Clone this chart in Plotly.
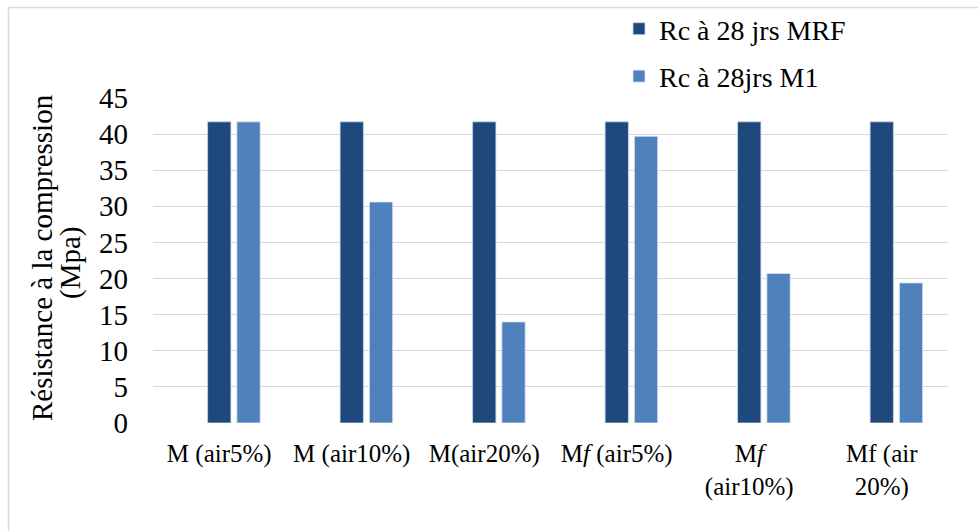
import plotly.graph_objects as go

# Compressive strength at 28 days, per mix
categories = [
    "M (air5%)",
    "M (air10%)",
    "M(air20%)",
    "M<i>f</i> (air5%)",
    "M<i>f</i><br>(air10%)",
    "Mf (air<br>20%)",
]
rc_mrf = [41.7, 41.7, 41.7, 41.7, 41.7, 41.7]
rc_m1 = [41.7, 30.6, 14.0, 39.7, 20.7, 19.4]
series_names = ["Rc à 28 jrs MRF", "Rc à 28jrs M1"]
y_ticks = [0, 5, 10, 15, 20, 25, 30, 35, 40, 45]
y_title_lines = ["Résistance à la compression", "(Mpa)"]

W, H = 978, 531
ML, MR, MT, MB = 153, 30, 98, 108
PW, PH = W - ML - MR, H - MT - MB

FONT = "'Liberation Serif', Tinos, 'Times New Roman', 'DejaVu Serif', serif"
DARK = "#1F497D"
LIGHT = "#4F81BD"
GRID = "#D9D9D9"

slot = 0.221
bar_w = 0.176

fig = go.Figure()
fig.add_trace(go.Bar(
    x=categories, y=rc_mrf, name=series_names[0],
    marker=dict(color=DARK, line=dict(color="#C9D6EA", width=0.8)),
    width=bar_w, offset=-bar_w / 2, legendgroup="a",
))
fig.add_trace(go.Bar(
    x=categories, y=rc_m1, name=series_names[1],
    marker=dict(color=LIGHT, line=dict(color="#DCE6F2", width=0.8)),
    width=bar_w, offset=slot - bar_w / 2, legendgroup="b",
))


def px_x(p):
    return (p - ML) / PW


def px_y(p):
    return (H - MB - p) / PH


# chart frame (left and top edges)
fig.add_shape(type="line", xref="paper", yref="paper",
              x0=px_x(8.5), x1=px_x(8.5), y0=px_y(7.5), y1=px_y(H + 2),
              line=dict(color=GRID, width=1.5))
fig.add_shape(type="line", xref="paper", yref="paper",
              x0=px_x(8.5), x1=px_x(W + 2), y0=px_y(7.5), y1=px_y(7.5),
              line=dict(color=GRID, width=1.5))

# rotated y-axis title, two tightly spaced lines
for line_text, cx, cy in zip(y_title_lines, [42, 70], [258, 263]):
    fig.add_annotation(
        text=line_text, textangle=-90, xref="paper", yref="paper",
        x=px_x(cx), y=px_y(cy), xanchor="center", yanchor="middle",
        showarrow=False, font=dict(family=FONT, size=29, color="black"),
    )

fig.update_layout(
    width=W, height=H,
    margin=dict(l=ML, r=MR, t=MT, b=MB, pad=0, autoexpand=False),
    paper_bgcolor="white", plot_bgcolor="white",
    barmode="overlay",
    font=dict(family=FONT, color="black"),
    showlegend=True,
    legend=dict(
        x=px_x(619), y=px_y(4), xanchor="left", yanchor="top",
        font=dict(family=FONT, size=28, color="black"),
        traceorder="grouped", tracegroupgap=8,
        bgcolor="rgba(0,0,0,0)",
    ),
    xaxis=dict(
        showgrid=False, showline=False, zeroline=False, ticks="",
        tickfont=dict(family=FONT, size=25, color="black"),
        ticklabelstandoff=13,
    ),
    yaxis=dict(
        range=[0, 45], tickvals=y_ticks,
        showgrid=True, gridcolor=GRID, gridwidth=1.3,
        zeroline=False, showline=False, ticks="",
        tickfont=dict(family=FONT, size=29, color="black"),
        ticklabelstandoff=24,
    ),
)

fig.write_html("out.html")
